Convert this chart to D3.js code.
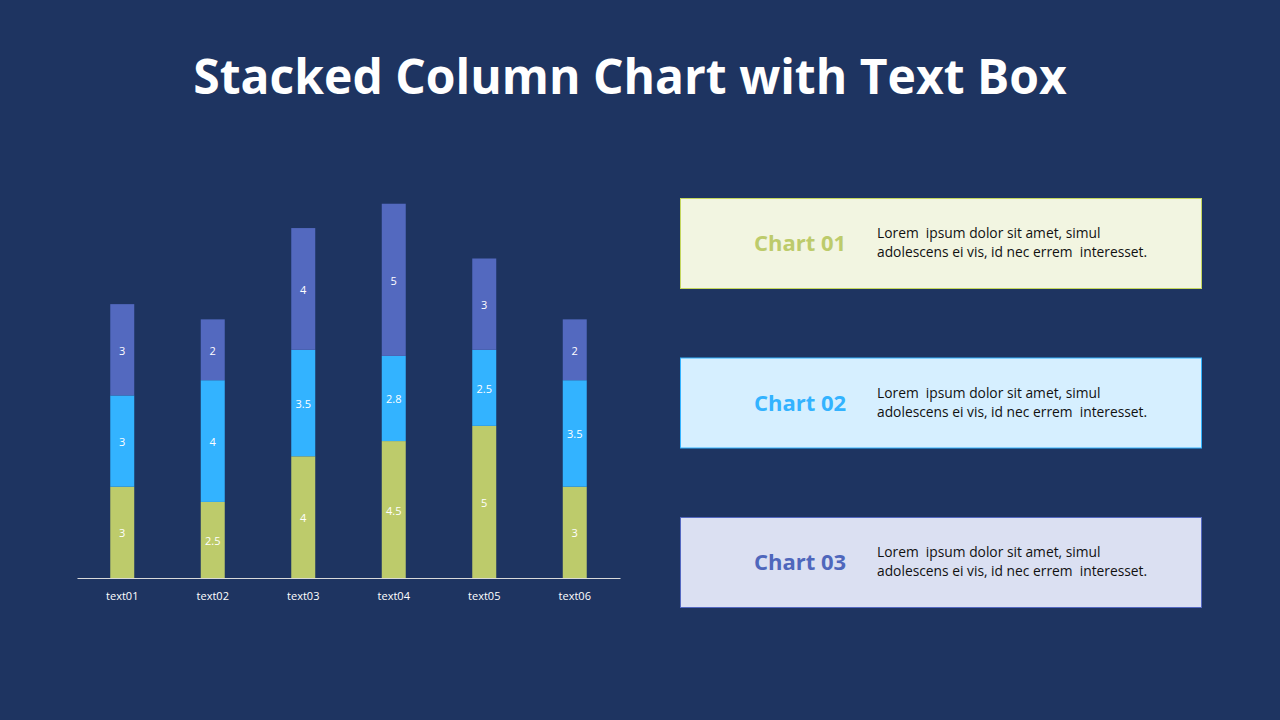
<!doctype html>
<html>
  <head>
    <meta charset="utf-8" />
    <title>Stacked Column Chart with Text Box</title>
    <script src="https://cdn.jsdelivr.net/npm/d3@7"></script>
    <style>
      html,
      body {
        margin: 0;
        overflow: hidden;
        background: #1e3461;
      }
      text {
        font-family: "Open Sans", "DejaVu Sans", sans-serif;
      }
    </style>
  </head>
  <body>
    <script>
      // Chart data
      const categories = ["text01", "text02", "text03", "text04", "text05", "text06"];
      const seriesNames = ["Chart 01", "Chart 02", "Chart 03"];
      const chart01 = [3, 2.5, 4, 4.5, 5, 3];
      const chart02 = [3, 4, 3.5, 2.8, 2.5, 3.5];
      const chart03 = [3, 2, 4, 5, 3, 2];
      const seriesColors = ["#bdcb6b", "#33b3ff", "#5369bf"];
      const boxFills = ["#f2f5e1", "#d6efff", "#dbe0f2"];
      const boxStrokes = ["#c4d65e", "#33b3ff", "#5468c0"];
      const titleColors = ["#bdcb6b", "#33b3ff", "#4f67bc"];
      const boxLines = [
        "Lorem  ipsum dolor sit amet, simul",
        "adolescens ei vis, id nec errem  interesset.",
      ];

      const width = 1280;
      const height = 720;

      const svg = d3
        .create("svg")
        .attr("width", width)
        .attr("height", height)
        .attr("viewBox", [0, 0, width, height]);

      svg
        .append("rect")
        .attr("width", width)
        .attr("height", height)
        .attr("fill", "#1e3461");

      svg
        .append("text")
        .attr("x", 630)
        .attr("y", 94)
        .attr("text-anchor", "middle")
        .attr("fill", "#fff")
        .attr("font-size", 48)
        .attr("font-weight", 700)
        .text("Stacked Column Chart with Text Box");

      // Build rows for the stack
      const rows = categories.map((c, i) => ({
        cat: c,
        "Chart 01": chart01[i],
        "Chart 02": chart02[i],
        "Chart 03": chart03[i],
      }));
      const stacked = d3.stack().keys(seriesNames)(rows);

      const x = d3
        .scaleBand()
        .domain(categories)
        .range([77, 620])
        .paddingInner(0.735)
        .paddingOuter(0.3675);

      // 14 units tall so 1 unit ~ 30.4px
      const y = d3.scaleLinear().domain([0, 14]).range([578, 152]);

      const color = d3.scaleOrdinal(seriesNames, seriesColors);

      const layer = svg
        .append("g")
        .selectAll("g")
        .data(stacked)
        .join("g")
        .attr("fill", (d) => color(d.key));

      layer
        .selectAll("rect")
        .data((d) => d)
        .join("rect")
        .attr("x", (d) => x(d.data.cat))
        .attr("y", (d) => y(d[1]))
        .attr("width", x.bandwidth())
        .attr("height", (d) => y(d[0]) - y(d[1]));

      layer
        .selectAll("text")
        .data((d) => d)
        .join("text")
        .attr("x", (d) => x(d.data.cat) + x.bandwidth() / 2)
        .attr("y", (d) => (y(d[0]) + y(d[1])) / 2 + 5)
        .attr("text-anchor", "middle")
        .attr("fill", "#fff")
        .attr("font-size", 11)
        .text((d) => d3.format("")(+(d[1] - d[0]).toFixed(1)));

      // x axis
      const xAxis = svg
        .append("g")
        .attr("transform", "translate(0,578)")
        .call(d3.axisBottom(x).tickSize(0).tickPadding(14));
      xAxis.select(".domain").attr("stroke", "#d9d9d9").attr("stroke-width", 1.2);
      xAxis
        .selectAll("text")
        .attr("fill", "#fff")
        .attr("font-size", 11)
        .attr("font-family", '"Open Sans", sans-serif');

      // Text boxes
      const boxY = d3.scalePoint().domain(seriesNames).range([198, 517]);

      const box = svg
        .append("g")
        .selectAll("g")
        .data(seriesNames)
        .join("g")
        .attr("transform", (d) => `translate(680,${boxY(d)})`);

      box
        .append("rect")
        .attr("x", 0.5)
        .attr("y", 0.5)
        .attr("width", 521)
        .attr("height", 90)
        .attr("fill", (d, i) => boxFills[i])
        .attr("stroke", (d, i) => boxStrokes[i])
        .attr("stroke-width", 1);

      box
        .append("text")
        .attr("x", 120)
        .attr("y", 53)
        .attr("text-anchor", "middle")
        .attr("fill", (d, i) => titleColors[i])
        .attr("font-size", 22)
        .attr("font-weight", 700)
        .text((d) => d);

      box
        .selectAll("text.body")
        .data(boxLines)
        .join("text")
        .attr("class", "body")
        .attr("x", 197)
        .attr("y", (d, i) => 40 + i * 19)
        .attr("fill", "#111")
        .attr("font-size", 13.8)
        .attr("xml:space", "preserve")
        .style("white-space", "pre")
        .text((d) => d);

      document.body.appendChild(svg.node());
    </script>
  </body>
</html>
